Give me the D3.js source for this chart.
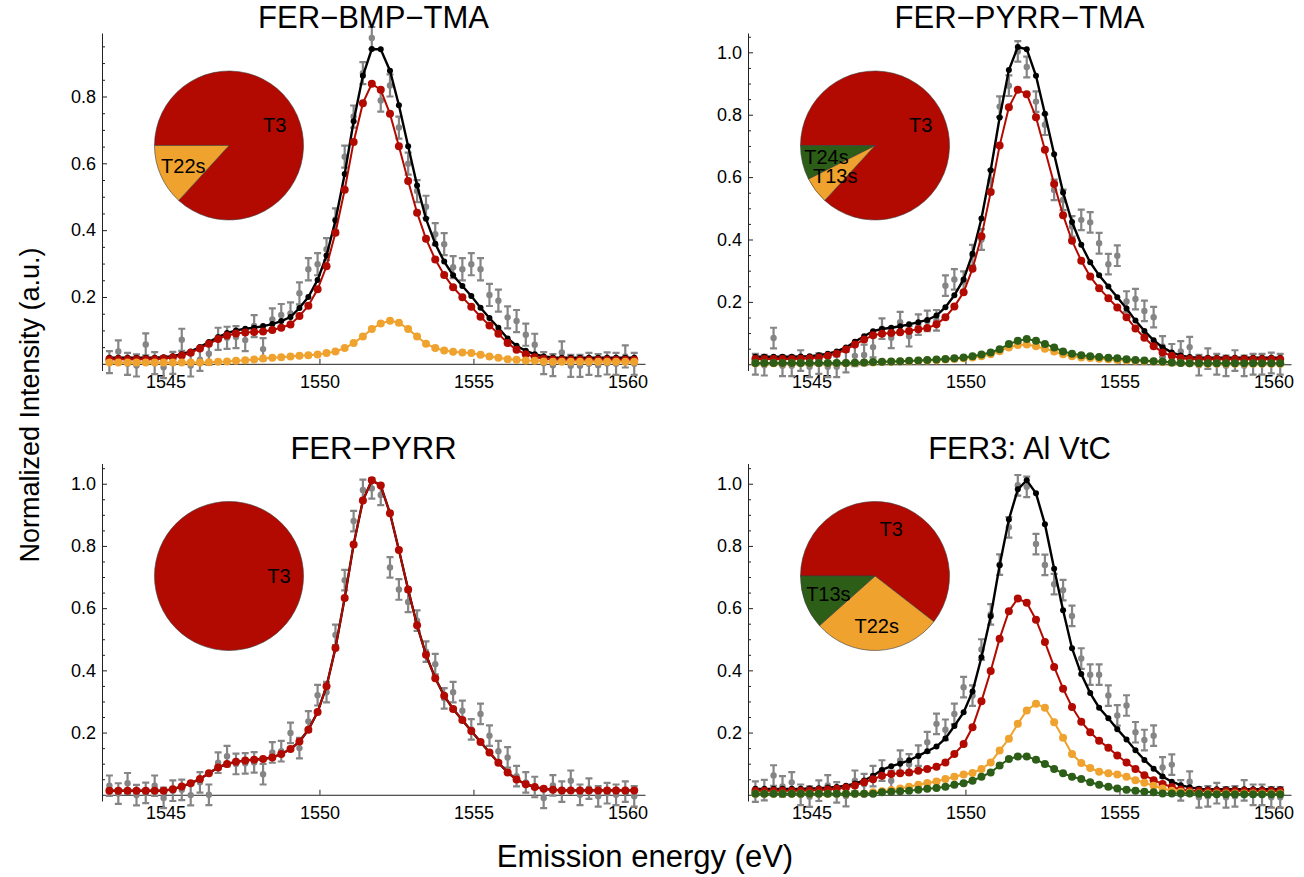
<!DOCTYPE html>
<html>
<head>
<meta charset="utf-8">
<script src="https://cdn.jsdelivr.net/npm/d3@7"></script>
<style>
  body { margin: 0; background: #fff; }
  svg { font-family: "Liberation Sans", Arial, Helvetica, sans-serif; }
</style>
</head>
<body>
<svg id="chart" width="1304" height="877"></svg>
<script>
// Emission energy grid (eV)
const energy = [
  1543.18,1543.47,1543.77,1544.06,1544.36,1544.65,1544.94,1545.24,1545.53,1545.82,
  1546.12,1546.41,1546.71,1547.00,1547.29,1547.59,1547.88,1548.17,1548.47,1548.76,
  1549.06,1549.35,1549.64,1549.94,1550.23,1550.52,1550.82,1551.11,1551.41,1551.70,
  1551.99,1552.29,1552.58,1552.88,1553.17,1553.46,1553.76,1554.05,1554.34,1554.64,
  1554.93,1555.23,1555.52,1555.81,1556.11,1556.40,1556.70,1556.99,1557.28,1557.58,
  1557.87,1558.16,1558.46,1558.75,1559.05,1559.34,1559.63,1559.93,1560.22
];

// FER−BMP−TMA
const bmpTmaMeasured = [
  0.005,0.037,0.000,-0.005,0.058,0.002,-0.010,0.003,0.072,-0.005,
  0.012,0.030,0.075,0.078,0.080,0.071,0.113,0.044,0.133,0.146,
  0.151,0.211,0.283,0.298,0.343,0.432,0.620,0.740,0.870,0.975,
  0.788,0.833,0.707,0.599,0.517,0.470,0.388,0.358,0.289,0.283,
  0.298,0.283,0.206,0.189,0.139,0.128,0.087,0.057,0.002,-0.004,
  0.034,-0.006,-0.006,0.000,-0.004,0.001,0.000,0.022,0.000
];
const bmpTmaTotal = [
  0.018,0.018,0.018,0.018,0.018,0.018,0.020,0.023,0.029,0.037,
  0.050,0.065,0.080,0.092,0.100,0.105,0.108,0.113,0.119,0.128,
  0.140,0.167,0.200,0.251,0.324,0.429,0.568,0.726,0.862,0.942,
  0.941,0.877,0.774,0.651,0.534,0.434,0.359,0.306,0.265,0.233,
  0.203,0.168,0.137,0.108,0.076,0.054,0.039,0.029,0.022,0.019,
  0.018,0.018,0.018,0.018,0.018,0.018,0.018,0.018,0.018
];
const bmpTmaT3 = [
  0.014,0.014,0.014,0.014,0.014,0.014,0.016,0.019,0.025,0.033,
  0.046,0.060,0.074,0.085,0.091,0.094,0.095,0.097,0.101,0.108,
  0.118,0.143,0.174,0.223,0.292,0.392,0.521,0.664,0.780,0.838,
  0.820,0.748,0.651,0.547,0.452,0.374,0.312,0.266,0.229,0.199,
  0.171,0.141,0.115,0.090,0.062,0.042,0.029,0.020,0.015,0.013,
  0.012,0.012,0.012,0.012,0.012,0.012,0.012,0.012,0.012
];
const bmpTmaT22s = [
  0.004,0.004,0.004,0.004,0.004,0.004,0.004,0.004,0.004,0.004,
  0.004,0.005,0.006,0.007,0.009,0.011,0.013,0.016,0.018,0.020,
  0.022,0.024,0.026,0.028,0.032,0.037,0.047,0.062,0.082,0.104,
  0.121,0.129,0.123,0.104,0.082,0.060,0.047,0.040,0.036,0.034,
  0.032,0.027,0.022,0.018,0.014,0.012,0.010,0.009,0.007,0.006,
  0.006,0.006,0.006,0.006,0.006,0.006,0.006,0.006,0.006
];

// FER−PYRR−TMA
const pyrrTmaMeasured = [
  0.000,-0.003,0.084,-0.005,-0.005,0.012,-0.008,0.002,-0.008,-0.008,
  0.007,0.027,0.030,0.055,0.114,0.085,0.135,0.090,0.127,0.139,
  0.141,0.252,0.272,0.265,0.350,0.400,0.590,0.826,0.893,1.003,
  0.953,0.842,0.768,0.559,0.527,0.442,0.463,0.455,0.388,0.321,
  0.348,0.201,0.209,0.171,0.151,0.057,0.032,0.041,0.055,-0.003,
  0.018,0.000,-0.005,0.012,-0.005,0.000,0.000,0.004,0.000
];
const pyrrTmaTotal = [
  0.024,0.024,0.024,0.024,0.024,0.025,0.026,0.029,0.034,0.041,
  0.054,0.072,0.090,0.106,0.113,0.117,0.122,0.128,0.135,0.142,
  0.156,0.183,0.221,0.272,0.354,0.467,0.622,0.791,0.943,1.017,
  1.010,0.925,0.803,0.673,0.551,0.456,0.383,0.327,0.285,0.249,
  0.215,0.179,0.140,0.107,0.077,0.054,0.038,0.028,0.023,0.021,
  0.021,0.021,0.021,0.021,0.021,0.021,0.021,0.021,0.021
];
const pyrrTmaT3 = [
  0.017,0.017,0.017,0.017,0.017,0.018,0.019,0.022,0.027,0.034,
  0.047,0.063,0.079,0.093,0.098,0.100,0.103,0.107,0.112,0.116,
  0.128,0.151,0.185,0.231,0.306,0.410,0.552,0.701,0.824,0.880,
  0.866,0.792,0.688,0.578,0.478,0.396,0.332,0.281,0.244,0.212,
  0.182,0.151,0.115,0.085,0.058,0.038,0.027,0.020,0.017,0.016,
  0.016,0.016,0.016,0.016,0.016,0.016,0.016,0.016,0.016
];
const pyrrTmaT13s = [
  0.003,0.003,0.003,0.003,0.003,0.003,0.003,0.003,0.003,0.003,
  0.003,0.004,0.005,0.006,0.007,0.008,0.009,0.010,0.011,0.012,
  0.013,0.015,0.017,0.019,0.022,0.026,0.032,0.042,0.054,0.062,
  0.063,0.058,0.050,0.041,0.032,0.026,0.022,0.020,0.018,0.016,
  0.014,0.012,0.011,0.010,0.009,0.007,0.005,0.004,0.003,0.002,
  0.002,0.002,0.002,0.002,0.002,0.002,0.002,0.002,0.002
];
const pyrrTmaT24s = [
  0.004,0.004,0.004,0.004,0.004,0.004,0.004,0.004,0.004,0.004,
  0.004,0.005,0.006,0.007,0.008,0.009,0.010,0.011,0.012,0.014,
  0.015,0.017,0.019,0.022,0.026,0.031,0.038,0.048,0.065,0.075,
  0.081,0.075,0.065,0.054,0.041,0.034,0.029,0.026,0.023,0.021,
  0.019,0.016,0.014,0.012,0.010,0.009,0.006,0.004,0.003,0.003,
  0.003,0.003,0.003,0.003,0.003,0.003,0.003,0.003,0.003
];

// FER−PYRR
const pyrrMeasured = [
  0.029,0.004,0.037,-0.001,0.006,0.029,-0.010,0.013,0.016,-0.001,
  0.040,0.000,0.103,0.124,0.099,0.101,0.104,0.066,0.136,0.140,
  0.199,0.150,0.236,0.320,0.330,0.514,0.690,0.880,0.980,0.985,
  0.964,0.731,0.660,0.620,0.560,0.460,0.420,0.310,0.330,0.270,
  0.210,0.260,0.190,0.140,0.120,0.060,0.040,0.025,-0.010,0.030,
  0.010,0.045,0.000,0.020,-0.005,0.005,0.000,0.010,-0.005
];
const pyrrT3 = [
  0.013,0.013,0.013,0.013,0.013,0.013,0.013,0.018,0.027,0.037,
  0.051,0.069,0.088,0.099,0.106,0.110,0.113,0.115,0.120,0.131,
  0.147,0.171,0.209,0.266,0.349,0.472,0.633,0.805,0.946,1.011,
  0.994,0.905,0.787,0.660,0.545,0.450,0.375,0.318,0.276,0.240,
  0.205,0.170,0.136,0.103,0.072,0.049,0.034,0.025,0.019,0.016,
  0.014,0.014,0.014,0.014,0.014,0.014,0.014,0.014,0.014
];

// FER3: Al VtC
const alMeasured = [
  0.010,0.015,0.062,0.027,0.040,0.000,-0.006,0.013,0.030,0.008,
  -0.004,0.045,0.034,0.060,0.078,0.045,0.110,0.098,0.126,0.169,
  0.228,0.209,0.260,0.346,0.319,0.467,0.580,0.740,0.860,0.995,
  0.990,0.806,0.739,0.677,0.658,0.575,0.438,0.386,0.386,0.319,
  0.255,0.287,0.201,0.176,0.190,0.088,0.097,0.014,0.042,-0.008,
  -0.005,0.005,-0.008,-0.005,0.014,0.000,0.000,-0.008,-0.008
];
const alTotal = [
  0.019,0.019,0.019,0.019,0.019,0.019,0.020,0.021,0.023,0.025,
  0.029,0.036,0.046,0.061,0.080,0.092,0.100,0.111,0.125,0.140,
  0.155,0.181,0.221,0.265,0.332,0.442,0.574,0.738,0.885,0.982,
  1.011,0.969,0.870,0.727,0.593,0.471,0.388,0.327,0.280,0.246,
  0.211,0.178,0.143,0.112,0.084,0.059,0.042,0.031,0.024,0.019,
  0.018,0.018,0.018,0.018,0.018,0.018,0.018,0.018,0.018
];
const alT3 = [
  0.013,0.013,0.013,0.013,0.013,0.013,0.014,0.015,0.017,0.019,
  0.023,0.030,0.040,0.050,0.061,0.067,0.069,0.072,0.077,0.083,
  0.090,0.104,0.131,0.163,0.217,0.301,0.398,0.502,0.590,0.631,
  0.617,0.563,0.491,0.411,0.341,0.282,0.235,0.201,0.174,0.151,
  0.126,0.104,0.083,0.063,0.047,0.035,0.025,0.017,0.013,0.012,
  0.012,0.012,0.012,0.012,0.012,0.012,0.012,0.012,0.012
];
const alT22s = [
  0.003,0.003,0.003,0.003,0.003,0.003,0.003,0.003,0.003,0.003,
  0.003,0.003,0.003,0.008,0.011,0.015,0.020,0.026,0.032,0.038,
  0.043,0.051,0.058,0.065,0.070,0.083,0.104,0.142,0.180,0.228,
  0.271,0.293,0.280,0.233,0.183,0.131,0.102,0.086,0.074,0.069,
  0.065,0.058,0.047,0.039,0.029,0.020,0.013,0.010,0.007,0.004,
  0.004,0.004,0.004,0.004,0.004,0.004,0.004,0.004,0.004
];
const alT13s = [
  0.003,0.003,0.003,0.003,0.003,0.003,0.003,0.003,0.003,0.003,
  0.003,0.003,0.003,0.003,0.008,0.010,0.011,0.013,0.016,0.019,
  0.022,0.026,0.032,0.037,0.045,0.058,0.072,0.094,0.115,0.123,
  0.123,0.113,0.099,0.083,0.069,0.058,0.051,0.040,0.032,0.026,
  0.020,0.016,0.013,0.010,0.008,0.004,0.004,0.004,0.004,0.003,
  0.002,0.002,0.002,0.002,0.002,0.002,0.002,0.002,0.002
];

// Site populations shown in the inset pies (fractions)
const bmpTmaSites = ["T3", "T22s"];
const bmpTmaShares = [0.868, 0.132];
const pyrrTmaSites = ["T3", "T13s", "T24s"];
const pyrrTmaShares = [0.868, 0.058, 0.074];
const pyrrSites = ["T3"];
const pyrrShares = [1.0];
const alSites = ["T3", "T22s", "T13s"];
const alShares = [0.605, 0.279, 0.116];

// Axis ticks
const xTickValues = [1545, 1550, 1555, 1560];
const yTickValues = [0.2, 0.4, 0.6, 0.8, 1.0];
const yMinorValues = [0.05,0.1,0.15,0.25,0.3,0.35,0.45,0.5,0.55,0.65,0.7,0.75,0.85,0.9,0.95,1.05];
const errHalf = 0.033;

// Colours: first component red, second orange, third green
const componentColors = ["#b20a00", "#f0a22e", "#2d5e17"];
const measuredColor = "#858585";

const panels = [
  { title: "FER\u2212BMP\u2212TMA", col: 0, row: 0, yMax: 0.99,
    measured: bmpTmaMeasured, total: bmpTmaTotal,
    components: [bmpTmaT3, bmpTmaT22s], sites: bmpTmaSites, shares: bmpTmaShares },
  { title: "FER\u2212PYRR\u2212TMA", col: 1, row: 0, yMax: 1.062,
    measured: pyrrTmaMeasured, total: pyrrTmaTotal,
    components: [pyrrTmaT3, pyrrTmaT13s, pyrrTmaT24s], sites: pyrrTmaSites, shares: pyrrTmaShares },
  { title: "FER\u2212PYRR", col: 0, row: 1, yMax: 1.065,
    measured: pyrrMeasured, total: pyrrT3,
    components: [pyrrT3], sites: pyrrSites, shares: pyrrShares, totalDots: false },
  { title: "FER3: Al VtC", col: 1, row: 1, yMax: 1.065,
    measured: alMeasured, total: alTotal,
    components: [alT3, alT22s, alT13s], sites: alSites, shares: alShares }
];

const svg = d3.select("#chart");
const colX = [102, 748];
const rowY = [33, 463.5];
const plotW = 543, plotH = 337.5;
const yMin = -0.02;

panels.forEach(p => {
  const x0 = colX[p.col], y0 = rowY[p.row];
  const g = svg.append("g").attr("transform", `translate(${x0},${y0})`);
  const x = d3.scaleLinear().domain([1542.94, 1560.57]).range([0, plotW]);
  const y = d3.scaleLinear().domain([yMin, p.yMax]).range([plotH, 0]);

  // panel title
  svg.append("text")
    .attr("x", x0 + plotW / 2).attr("y", y0 - 5)
    .attr("text-anchor", "middle")
    .attr("font-size", 31)
    .text(p.title);

  // x axis along y = 0
  const xAxis = g.append("g")
    .attr("transform", `translate(0,${y(0)})`)
    .call(d3.axisBottom(x).tickValues(xTickValues).tickFormat(d3.format("d"))
      .tickSizeInner(-5).tickSizeOuter(0).tickPadding(11));
  xAxis.selectAll("text").attr("font-size", 18).attr("fill", "#000");
  xAxis.selectAll("line, path").attr("stroke", "#222");

  // y axis with minor ticks
  const yMinorAxis = g.append("g")
    .call(d3.axisLeft(y).tickValues(yMinorValues.filter(v => v < p.yMax))
      .tickFormat("").tickSizeInner(-3).tickSizeOuter(0));
  yMinorAxis.select(".domain").remove();
  yMinorAxis.selectAll("line").attr("stroke", "#222");
  const yAxis = g.append("g")
    .call(d3.axisLeft(y).tickValues(yTickValues.filter(v => v < p.yMax))
      .tickFormat(d3.format(".1f")).tickSizeInner(-5).tickSizeOuter(0).tickPadding(6));
  yAxis.selectAll("text").attr("font-size", 18).attr("fill", "#000");
  yAxis.selectAll("line, path").attr("stroke", "#222");

  const pts = (vals) => vals.map((v, i) => [energy[i], v]);
  const line = d3.line().x(d => x(d[0])).y(d => y(d[1]));

  // measured spectrum with error bars
  const meas = g.append("g").attr("class", "measured");
  const mpts = pts(p.measured);
  meas.selectAll("path.err").data(mpts).join("path")
    .attr("class", "err")
    .attr("d", d => {
      const cx = x(d[0]), yt = y(d[1] + errHalf), yb = y(d[1] - errHalf);
      return `M${cx},${yt}V${yb}M${cx - 3.5},${yt}H${cx + 3.5}M${cx - 3.5},${yb}H${cx + 3.5}`;
    })
    .attr("stroke", measuredColor).attr("stroke-width", 2.2).attr("fill", "none");
  meas.selectAll("circle").data(mpts).join("circle")
    .attr("cx", d => x(d[0])).attr("cy", d => y(d[1])).attr("r", 3.2)
    .attr("fill", measuredColor);

  // total fit
  const tpts = pts(p.total);
  g.append("path").datum(tpts).attr("d", line)
    .attr("fill", "none").attr("stroke", "#000").attr("stroke-width", 2.4);
  if (p.totalDots !== false) {
    g.append("g").selectAll("circle").data(tpts).join("circle")
      .attr("cx", d => x(d[0])).attr("cy", d => y(d[1])).attr("r", 3.0).attr("fill", "#000");
  }

  // site components
  p.components.forEach((vals, k) => {
    const cpts = pts(vals);
    const col = componentColors[k];
    g.append("path").datum(cpts).attr("d", line)
      .attr("fill", "none").attr("stroke", col).attr("stroke-width", 2);
    g.append("g").selectAll("circle").data(cpts).join("circle")
      .attr("cx", d => x(d[0])).attr("cy", d => y(d[1])).attr("r", 4).attr("fill", col);
  });

  // inset pie of site populations
  const r = 74.5;
  const pieG = g.append("g").attr("transform", "translate(127,112.5)");
  const slices = d3.pie().sort(null).value(d => d.share)
    .startAngle(-Math.PI / 2).endAngle(1.5 * Math.PI)(
      p.sites.map((s, i) => ({ site: s, share: p.shares[i], color: componentColors[i] })));
  const arc = d3.arc().innerRadius(0).outerRadius(r);
  pieG.selectAll("path").data(slices).join("path")
    .attr("d", arc)
    .attr("fill", d => d.data.color)
    .attr("stroke", "#3a3a3a").attr("stroke-width", 0.6);
  pieG.selectAll("text").data(slices).join("text")
    .attr("x", d => Math.sin((d.startAngle + d.endAngle) / 2) * r * 0.67)
    .attr("y", d => -Math.cos((d.startAngle + d.endAngle) / 2) * r * 0.67)
    .attr("text-anchor", "middle").attr("dominant-baseline", "central")
    .attr("font-size", 20).attr("fill", "#000")
    .text(d => d.data.site);
});

// shared axis labels
svg.append("text")
  .attr("x", 645).attr("y", 867)
  .attr("text-anchor", "middle").attr("font-size", 31)
  .text("Emission energy (eV)");
svg.append("text")
  .attr("transform", "translate(30,405) rotate(-90)")
  .attr("text-anchor", "middle").attr("dominant-baseline", "central")
  .attr("font-size", 27)
  .text("Normalized Intensity (a.u.)");
</script>
</body>
</html>
